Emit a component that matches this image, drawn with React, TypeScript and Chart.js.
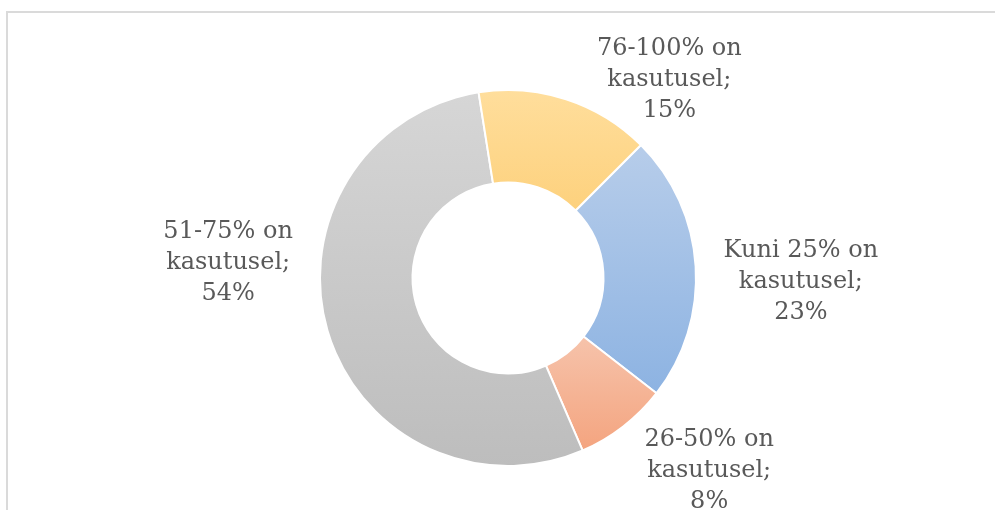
import React, { useEffect, useRef } from "react";
import { Chart, registerables } from "chart.js";

Chart.register(...registerables);

const categories = [
  "Kuni 25% on kasutusel",
  "26-50% on kasutusel",
  "51-75% on kasutusel",
  "76-100% on kasutusel",
];
const values = [23, 8, 54, 15];
const percentLabels = ["23%", "8%", "54%", "15%"];

const topColors = ["#B7CDEA", "#F6C3AB", "#D6D6D6", "#FFDE9C"];
const bottomColors = ["#8DB3E2", "#F4A47F", "#BDBDBD", "#FDD17D"];

// label placement tweaks (angle offset in degrees, extra distance beyond the outer radius)
const labelAngleTweak = [5.5, -7.5, 18, 22];
const labelExtra = [105, 95, 92, 63];

const gradientPlugin = {
  id: "sliceGradient",
  beforeDatasetsDraw(chart: any) {
    const ctx = chart.ctx;
    const meta = chart.getDatasetMeta(0);
    meta.data.forEach((el: any, i: number) => {
      const { x, y, startAngle, endAngle, innerRadius, outerRadius } = el;
      let ymin = Infinity;
      let ymax = -Infinity;
      const steps = 60;
      for (let s = 0; s <= steps; s++) {
        const a = startAngle + ((endAngle - startAngle) * s) / steps;
        for (const r of [innerRadius, outerRadius]) {
          const yy = y + Math.sin(a) * r;
          ymin = Math.min(ymin, yy);
          ymax = Math.max(ymax, yy);
        }
      }
      const g = ctx.createLinearGradient(0, ymin, 0, ymax);
      g.addColorStop(0, topColors[i]);
      g.addColorStop(1, bottomColors[i]);
      el.options = Object.assign({}, el.options, { backgroundColor: g });
    });
  },
};

const labelPlugin = {
  id: "sliceLabels",
  afterDatasetsDraw(chart: any) {
    const ctx = chart.ctx;
    const meta = chart.getDatasetMeta(0);
    ctx.save();
    ctx.font = '24px "DejaVu Serif"';
    ctx.fillStyle = "#595959";
    ctx.textAlign = "center";
    ctx.textBaseline = "alphabetic";
    meta.data.forEach((el: any, i: number) => {
      const mid = (el.startAngle + el.endAngle) / 2 + (labelAngleTweak[i] * Math.PI) / 180;
      const r = el.outerRadius + labelExtra[i];
      const cx = el.x + Math.cos(mid) * r;
      const cy = el.y + Math.sin(mid) * r;
      const words = categories[i].split(" ");
      const last = words.pop();
      const lines = [words.join(" "), last + ";", percentLabels[i]];
      lines.forEach((line, k) => {
        ctx.fillText(line, cx, cy + (k - 1) * 31);
      });
    });
    ctx.restore();
  },
};

export default function App() {
  const canvasRef = useRef<HTMLCanvasElement | null>(null);

  useEffect(() => {
    if (!canvasRef.current) return;
    const chart = new Chart(canvasRef.current, {
      type: "doughnut",
      data: {
        labels: categories,
        datasets: [
          {
            data: values,
            backgroundColor: bottomColors,
            borderColor: "#FFFFFF",
            borderWidth: 2,
          },
        ],
      },
      options: {
        responsive: false,
        animation: false,
        rotation: 45,
        radius: 188,
        cutout: 95,
        layout: { padding: { top: 90, bottom: 44, left: 21, right: 0 } },
        plugins: {
          legend: { display: false },
          tooltip: { enabled: false },
        },
      },
      plugins: [gradientPlugin, labelPlugin],
    });
    return () => chart.destroy();
  }, []);

  return (
    <div style={{ position: "absolute", left: 0, top: 0, width: 995, height: 510, background: "#FFFFFF", overflow: "hidden" }}>
      <div
        style={{
          position: "absolute",
          left: 6,
          top: 11,
          width: 1000,
          height: 520,
          borderTop: "2px solid #DADADA",
          borderLeft: "2px solid #DADADA",
        }}
      />
      <canvas ref={canvasRef} width={995} height={510} style={{ position: "absolute", left: 0, top: 0 }} />
    </div>
  );
}
